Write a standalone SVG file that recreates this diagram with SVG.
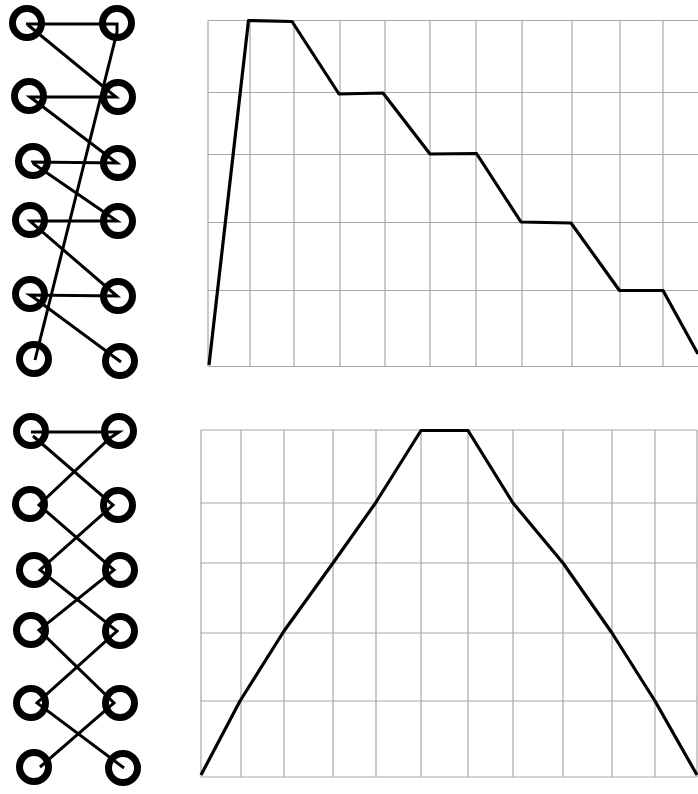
<svg xmlns="http://www.w3.org/2000/svg" width="698" height="794" viewBox="0 0 698 794">
<style>
.node{fill:none;stroke:#000;stroke-width:7}
.conn{fill:none;stroke:#000;stroke-width:3;stroke-linejoin:miter}
.grid{fill:none;stroke:#a8a8a8;stroke-width:1.2}
.curve{fill:none;stroke:#000;stroke-width:3.2;stroke-linejoin:round}
</style>
<rect width="698" height="794" fill="#fff"/>
<g id="chart-top">
<path class="grid" d="M208,20.5H698M208,92.5H698M208,154.5H698M208,222.5H698M208,290.5H698M208,366.5H698M208,20.5V366.5M250,20.5V366.5M294,20.5V366.5M340,20.5V366.5M385,20.5V366.5M430,20.5V366.5M476,20.5V366.5M522,20.5V366.5M572,20.5V366.5M620,20.5V366.5M663,20.5V366.5"/>
<polyline class="curve" points="209,365 248.5,20.5 292,21.5 339,94 383,93 430,154 476.5,153.5 521,222 571,223 619.5,290.5 663,290.5 698,354"/>
</g>
<g id="chart-bottom">
<path class="grid" d="M201,430H697M201,503H697M201,563H697M201,633H697M201,701H697M201,777H697M201,430V777M241,430V777M284,430V777M333,430V777M376,430V777M421,430V777M468,430V777M513,430V777M563,430V777M612,430V777M655,430V777M697,430V777"/>
<polyline class="curve" points="201,775 240,701 284,631 333,563 375.5,503 421,430.5 468,430.5 513,503 563,563 612,633 655,701 697,775"/>
</g>
<g id="connectors">
<polyline class="conn" points="26,24 117,24 117,32 35,360"/>
<polyline class="conn" points="28,25 116,97 30,97 34,100 117,163 33,162 34,164 117,221 30,221 32,223 117,296 30,295 33,297 121,362"/>
<polyline class="conn" points="31,432 119,432 110,438 39,505 114,570 39,630 114,703 40,767"/>
<polyline class="conn" points="33,436 113,505 40,570 117,631 37,703 124,768"/>
</g>
<g id="L1"><circle class="node" cx="27" cy="23" r="14.5"/></g>
<g id="R1"><circle class="node" cx="117" cy="23" r="14.5"/></g>
<g id="L2"><circle class="node" cx="29" cy="96" r="14.5"/></g>
<g id="R2"><circle class="node" cx="118" cy="97" r="14.5"/></g>
<g id="L3"><circle class="node" cx="33" cy="161" r="14.5"/></g>
<g id="R3"><circle class="node" cx="118" cy="163" r="14.5"/></g>
<g id="L4"><circle class="node" cx="30" cy="220" r="14.5"/></g>
<g id="R4"><circle class="node" cx="118" cy="221" r="14.5"/></g>
<g id="L5"><circle class="node" cx="30" cy="294" r="14.5"/></g>
<g id="R5"><circle class="node" cx="118" cy="296" r="14.5"/></g>
<g id="L6"><circle class="node" cx="34" cy="359" r="14.5"/></g>
<g id="R6"><circle class="node" cx="120" cy="361" r="14.5"/></g>
<g id="L1b"><circle class="node" cx="31" cy="431" r="14.5"/></g>
<g id="R1b"><circle class="node" cx="119" cy="431" r="14.5"/></g>
<g id="L2b"><circle class="node" cx="30" cy="504" r="14.5"/></g>
<g id="R2b"><circle class="node" cx="118" cy="505" r="14.5"/></g>
<g id="L3b"><circle class="node" cx="34" cy="570" r="14.5"/></g>
<g id="R3b"><circle class="node" cx="120" cy="570" r="14.5"/></g>
<g id="L4b"><circle class="node" cx="31" cy="630" r="14.5"/></g>
<g id="R4b"><circle class="node" cx="120" cy="631" r="14.5"/></g>
<g id="L5b"><circle class="node" cx="31" cy="703" r="14.5"/></g>
<g id="R5b"><circle class="node" cx="120" cy="703" r="14.5"/></g>
<g id="L6b"><circle class="node" cx="34" cy="767" r="14.5"/></g>
<g id="R6b"><circle class="node" cx="123" cy="768" r="14.5"/></g>
</svg>
